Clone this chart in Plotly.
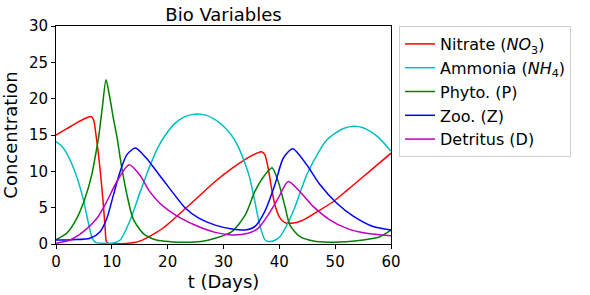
import plotly.graph_objects as go

# Nitrate (NO3)
t_no3 = [0, 2, 4, 5, 6, 6.4, 6.8, 7.1, 7.5, 8, 8.5, 8.8, 9.0, 9.3, 10, 12, 13, 14, 15, 16, 17, 18, 19, 20,
         22.5, 25.5, 28.5, 31.5, 34.4, 36, 36.8, 37.4, 38.0, 38.6, 39.2, 40.1, 41.0, 42.2, 44, 47, 49.7,
         52, 54, 56, 58, 60]
v_no3 = [15.0, 15.9, 16.8, 17.2, 17.5, 17.5, 16.9, 15.4, 13.0, 9.5, 5.2, 2.2, 0.4, 0.08, 0.03, 0.05, 0.1, 0.2,
         0.4, 0.75, 1.15, 1.6, 2.1, 2.7, 4.4, 6.5, 8.6, 10.4, 11.9, 12.5, 12.7, 12.3, 10.4, 7.7, 5.4, 3.6,
         2.95, 2.85, 3.2, 4.55, 5.85, 7.3, 8.6, 9.9, 11.2, 12.5]

# Ammonia (NH4)
t_nh4 = [0, 1, 1.9, 3.7, 4.9, 5.8, 6.4, 7.0, 7.5, 9, 10.3, 11.5, 13.3, 15.0, 16.8, 18.2, 19.5, 21.3, 23, 25.2,
         27, 28.5, 30, 31.5, 32.5, 33.3, 34.0, 34.7, 35.6, 36.5, 37.4, 38.0, 39, 40.1, 41.2, 42.5, 44.9, 47.3,
         48.5, 49.7, 51.5, 53.3, 55, 56.5, 58.0, 60]
v_nh4 = [14.1, 13.5, 12.5, 9.3, 6.1, 2.9, 1.0, 0.25, 0.12, 0.1, 0.15, 0.55, 3.3, 7.0, 10.7, 13.2, 14.9, 16.6,
         17.5, 17.9, 17.7, 17.1, 16.2, 14.9, 13.6, 12.2, 10.8, 9.1, 5.9, 2.6, 0.6, 0.35, 0.45, 1.0, 2.4, 4.5,
         9.5, 13.0, 14.3, 15.1, 15.9, 16.2, 16.0, 15.4, 14.5, 12.75]

# Phyto. (P)
t_p = [0, 1.9, 3.7, 5.2, 6.4, 7.3, 7.6, 8.3, 8.96, 9.6, 10.3, 10.9, 11.8, 12.7, 13.8, 15.6, 18.0, 20.4,
       23, 26, 28.5, 31.5, 33.9, 35.6, 37.4, 38.7, 39.8, 41.0, 41.9, 43.7, 46.1, 49, 52, 55.0, 58, 60]
v_p = [0.6, 1.47, 3.5, 6.3, 9.5, 13.2, 14.5, 18.8, 22.6, 20.3, 17.2, 14.8, 10.4, 6.8, 3.5, 1.47, 0.55, 0.32,
       0.25, 0.35, 0.78, 1.7, 4.0, 7.2, 9.5, 10.5, 8.6, 5.2, 2.6, 1.0, 0.41, 0.25, 0.3, 0.55, 1.0, 1.9]

# Zoo. (Z)
t_z = [0, 3, 6.1, 7.9, 9.1, 10.3, 11.5, 12.7, 14.2, 16.2, 18.0, 19.5, 21.0, 23.1, 25.5, 28.5, 31.5, 33.9,
       35.6, 37.4, 39.2, 40.7, 42.4, 44.9, 47.3, 50.3, 53.3, 56.8, 60]
v_z = [0.55, 0.6, 0.8, 1.7, 3.5, 6.8, 10.0, 12.3, 13.2, 11.8, 10.0, 8.5, 7.0, 5.0, 3.6, 2.6, 2.07, 1.93,
       2.4, 4.5, 8.15, 11.8, 13.1, 10.9, 8.15, 5.6, 3.8, 2.4, 1.93]

# Detritus (D)
t_d = [0, 2.5, 4.9, 7.3, 9.1, 10.9, 13.1, 15.0, 16.8, 18.6, 20.4, 22.5, 25.5, 28.5, 31.5, 34.4, 36.2, 38.0,
       39.8, 41.6, 43.7, 46.1, 49.1, 52.1, 55.6, 60]
v_d = [0.1, 0.55, 1.7, 3.5, 5.85, 8.6, 10.9, 9.5, 7.2, 5.6, 4.5, 3.5, 2.4, 1.6, 1.25, 1.47, 2.15, 4.0, 6.3,
       8.6, 7.2, 5.15, 3.3, 2.15, 1.47, 1.15]

x_ticks = [0, 10, 20, 30, 40, 50, 60]
y_ticks = [0, 5, 10, 15, 20, 25, 30]

series = [
    ("Nitrate (<i>NO</i><sub>3</sub>)", t_no3, v_no3, "#ff0000"),
    ("Ammonia (<i>NH</i><sub>4</sub>)", t_nh4, v_nh4, "#00bfbf"),
    ("Phyto. (P)", t_p, v_p, "#008000"),
    ("Zoo. (Z)", t_z, v_z, "#0000ff"),
    ("Detritus (D)", t_d, v_d, "#bf00bf"),
]

fig = go.Figure()
for name, t, v, c in series:
    fig.add_trace(go.Scatter(x=t, y=v, mode="lines", name=name,
                             line=dict(color=c, width=1.5, shape="spline", smoothing=0.7)))

axis_common = dict(showline=True, linecolor="black", linewidth=1, mirror=True, automargin=False,
                   ticks="outside", ticklen=4, tickcolor="black", showgrid=False, zeroline=False,
                   tickfont=dict(size=15, color="black"))

fig.update_layout(
    width=590, height=295,
    margin=dict(l=56, r=199, t=26, b=51),
    paper_bgcolor="white", plot_bgcolor="white",
    font=dict(family="DejaVu Sans", color="black"),
    title=dict(text="Bio Variables", x=(56 + 391) / 2 / 590, xanchor="center", y=1 - 15 / 295,
               yanchor="middle", font=dict(size=18)),
    xaxis=dict(range=[0, 60], tickvals=x_ticks, title=dict(text="t (Days)", font=dict(size=18), standoff=2),
               **axis_common),
    yaxis=dict(range=[0, 30], tickvals=y_ticks, title=dict(text="Concentration", font=dict(size=18), standoff=6),
               **axis_common),
    legend=dict(x=1.024, y=1.0, xanchor="left", yanchor="top", font=dict(size=16),
                bordercolor="#d0d0d0", borderwidth=1, bgcolor="white", tracegroupgap=2),
    showlegend=True,
)

fig.write_html("out.html", config={"displayModeBar": False},
               post_script="document.body.style.margin='0';document.body.style.overflow='hidden';")
